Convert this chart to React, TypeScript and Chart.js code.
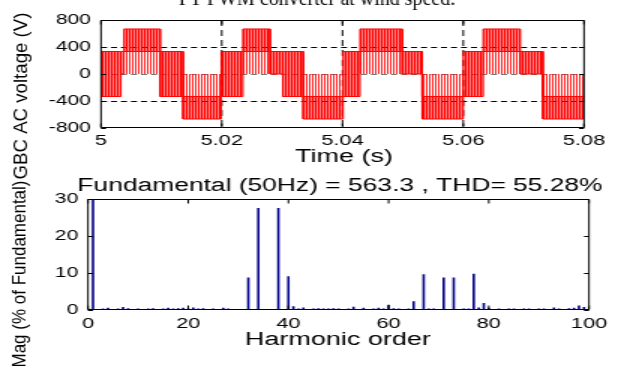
import React, { useEffect, useRef } from 'react';
import { Chart, registerables } from 'chart.js';

Chart.register(...registerables);

// ---------------- data ----------------
const CAPTION = 'PT PWM converter at wind speed.';

const WAVE_TITLE_Y = 'GBC AC voltage (V)';
const WAVE_TITLE_X = 'Time (s)';
const WAVE_X_TICKS = [5, 5.02, 5.04, 5.06, 5.08];
const WAVE_X_LABELS = ['5', '5.02', '5.04', '5.06', '5.08'];
const WAVE_Y_TICKS = [-800, -400, 0, 400, 800];
const WAVE_Y_LABELS = ['-800', '-400', '0', '400', '800'];
const WAVE_GRID_X = [5.02, 5.04, 5.06];
const WAVE_GRID_Y = [-400, 0, 400];

// PWM switching regions: start / end time (s),
// the two levels switched between (V) and the level the narrow spikes reach.
const SEG_START = [5.0, 5.0033, 5.0038, 5.0098, 5.0136, 5.0199, 5.0235, 5.028, 5.0301, 5.0335, 5.0401, 5.0429, 5.0499, 5.0532, 5.06, 5.0633, 5.0694, 5.0732];
const SEG_END = [5.0033, 5.0038, 5.0098, 5.0136, 5.0199, 5.0235, 5.028, 5.0301, 5.0335, 5.0401, 5.0429, 5.0499, 5.0532, 5.06, 5.0633, 5.0694, 5.0732, 5.08];
const SEG_LOW = [-333, 0, 333, -333, -667, -333, 333, 0, -333, -667, -333, 333, 0, -667, -333, 333, 0, -667];
const SEG_HIGH = [333, 333, 667, 333, -333, 333, 667, 333, 333, -333, 333, 667, 333, -333, 333, 667, 333, -333];
const SEG_SPIKE: (number | null)[] = [null, null, 0, null, 0, null, 0, null, null, 0, null, 0, null, 0, null, 0, null, 0];

const FFT_TITLE = 'Fundamental (50Hz) = 563.3 , THD= 55.28%';
const FFT_TITLE_X = 'Harmonic order';
const FFT_TITLE_Y = 'Mag (% of Fundamental)';
const FFT_X_TICKS = [0, 20, 40, 60, 80, 100];
const FFT_X_LABELS = ['0', '20', '40', '60', '80', '100'];
const FFT_Y_TICKS = [0, 10, 20, 30];
const FFT_Y_LABELS = ['0', '10', '20', '30'];
// magnitude of harmonic orders 0..100 (% of fundamental)
const HARMONIC_MAG = [
  0.3, 100, 0.2, 0.3, 0.5, 0.2, 0.3, 0.7, 0.4, 0.2,
  0.3, 0.2, 0.3, 0.4, 0.2, 0.3, 0.5, 0.3, 0.4, 0.5,
  0.3, 0.6, 0.3, 0.4, 0.2, 0.3, 0.2, 0.5, 0.3, 0.2,
  0.2, 0.2, 8.7, 0.2, 27.5, 0.2, 0.2, 0.2, 27.5, 0.2,
  9.0, 0.9, 0.3, 0.6, 0.2, 0.3, 0.4, 0.3, 0.3, 0.4,
  0.3, 0.2, 0.3, 0.8, 0.2, 0.5, 0.2, 0.3, 0.5, 0.3,
  1.3, 0.4, 0.3, 0.2, 0.3, 2.3, 0.2, 9.6, 0.3, 0.3,
  0.2, 8.7, 0.2, 8.7, 0.2, 0.3, 0.3, 9.7, 0.6, 1.8,
  0.5, 0.2, 0.3, 0.2, 0.3, 0.3, 0.2, 0.3, 0.3, 0.2,
  0.3, 0.3, 0.2, 0.6, 0.3, 0.2, 0.4, 0.5, 1.1, 0.7,
  0.3,
];

// ---------------- layout ----------------
const STRETCH = 1.5; // the figure is stretched horizontally
const PAGE_W = 630;
const PAGE_H = 372;
const CANVAS_W = PAGE_W / STRETCH;
const WAVE_AREA = { left: 101, right: 584, top: 20, bottom: 128 };
const FFT_AREA = { left: 88, right: 589, top: 199, bottom: 310 };
const X_AXIS_H = 30;
const FONT = '"Liberation Sans", Arial, sans-serif';
const SERIF = '"Liberation Serif", "Times New Roman", serif';

function labelFrom(ticks: number[], labels: string[]) {
  return (value: number | string) => {
    const v = Number(value);
    const i = ticks.findIndex((t) => Math.abs(t - v) < 1e-9);
    return i >= 0 ? labels[i] : '';
  };
}

function drawLabel(
  ctx: CanvasRenderingContext2D,
  text: string,
  x: number,
  y: number,
  size: number,
  opts: { rotate?: boolean; length?: number; serif?: boolean; plain?: boolean } = {}
) {
  ctx.save();
  ctx.fillStyle = '#000';
  ctx.font = `${size}px ${opts.serif ? SERIF : FONT}`;
  ctx.textAlign = 'center';
  ctx.textBaseline = opts.serif ? 'alphabetic' : 'middle';
  ctx.translate(x / STRETCH, y);
  if (opts.plain) ctx.scale(1 / STRETCH, 1);
  if (opts.rotate) {
    ctx.rotate(-Math.PI / 2);
    if (opts.length) {
      const w = ctx.measureText(text).width;
      ctx.scale(opts.length / w, 1);
    }
  }
  ctx.fillText(text, 0, 0);
  ctx.restore();
}

function framePlugin(cfg: {
  gridX: number[];
  gridY: number[];
  ticksX: number[];
  ticksY: number[];
  texts: (ctx: CanvasRenderingContext2D) => void;
}) {
  return {
    id: 'matlabFrame',
    beforeDatasetsDraw(chart: any) {
      const { ctx, chartArea: a, scales } = chart;
      ctx.save();
      ctx.lineWidth = 1;
      ctx.setLineDash([6 / STRETCH, 4 / STRETCH]);
      cfg.gridY.forEach((v) => {
        const py = Math.round(scales.y.getPixelForValue(v)) + 0.5;
        ctx.strokeStyle = v === 0 ? '#777' : '#000';
        ctx.beginPath();
        ctx.moveTo(a.left, py);
        ctx.lineTo(a.right, py);
        ctx.stroke();
      });
      ctx.setLineDash([6, 4]);
      ctx.strokeStyle = '#000';
      cfg.gridX.forEach((v) => {
        const px = scales.x.getPixelForValue(v);
        ctx.beginPath();
        ctx.moveTo(px, a.top);
        ctx.lineTo(px, a.bottom);
        ctx.stroke();
      });
      ctx.restore();
    },
    afterDatasetsDraw(chart: any) {
      const { ctx, chartArea: a, scales } = chart;
      const top = Math.round(a.top) + 0.5;
      const bottom = Math.round(a.bottom) - 0.5;
      ctx.save();
      ctx.strokeStyle = '#000';
      ctx.lineWidth = 1;
      ctx.setLineDash([]);
      ctx.beginPath();
      ctx.moveTo(a.left, top);
      ctx.lineTo(a.right, top);
      ctx.moveTo(a.left, bottom);
      ctx.lineTo(a.right, bottom);
      ctx.moveTo(a.left, top);
      ctx.lineTo(a.left, bottom);
      ctx.moveTo(a.right, top);
      ctx.lineTo(a.right, bottom);
      cfg.ticksX.forEach((v) => {
        const px = scales.x.getPixelForValue(v);
        ctx.moveTo(px, bottom);
        ctx.lineTo(px, bottom - 4);
        ctx.moveTo(px, top);
        ctx.lineTo(px, top + 4);
      });
      const tl = 5 / STRETCH;
      cfg.ticksY.forEach((v) => {
        const py = Math.round(scales.y.getPixelForValue(v)) + 0.5;
        ctx.moveTo(a.left, py);
        ctx.lineTo(a.left + tl, py);
        ctx.moveTo(a.right, py);
        ctx.lineTo(a.right - tl, py);
      });
      ctx.stroke();
      ctx.restore();
    },
    afterDraw(chart: any) {
      cfg.texts(chart.ctx);
    },
  };
}

function stripePattern(ctx: CanvasRenderingContext2D, on: string, off: string | null) {
  const c = document.createElement('canvas');
  c.width = 2;
  c.height = 4;
  const g = c.getContext('2d')!;
  if (off) {
    g.fillStyle = off;
    g.fillRect(1, 0, 1, 4);
  }
  g.fillStyle = on;
  g.fillRect(0, 0, 1, 4);
  return ctx.createPattern(c, 'repeat')!;
}

function envelope(level: (i: number) => number) {
  const pts: { x: number; y: number }[] = [];
  for (let i = 0; i < SEG_START.length; i++) {
    pts.push({ x: SEG_START[i], y: level(i) });
    pts.push({ x: SEG_END[i], y: level(i) });
  }
  return pts;
}

function axisCommon(size: number, padding: number) {
  return {
    grid: { display: false, drawTicks: false },
    border: { display: false },
    ticks: {
      autoSkip: false,
      maxRotation: 0,
      padding,
      color: '#000',
      font: { family: FONT, size },
    },
  };
}

function waveConfig(ctx: CanvasRenderingContext2D): any {
  const band = stripePattern(ctx, 'rgba(255,0,0,1)', 'rgba(255,0,0,0.5)');
  const spike = stripePattern(ctx, 'rgba(255,0,0,0.85)', null);
  const hi = envelope((i) => SEG_HIGH[i]);
  const lo = envelope((i) => SEG_LOW[i]);
  const spikeUp = envelope((i) => {
    const s = SEG_SPIKE[i];
    return s !== null && s > SEG_HIGH[i] ? s : SEG_HIGH[i];
  });
  const spikeDown = envelope((i) => {
    const s = SEG_SPIKE[i];
    return s !== null && s < SEG_LOW[i] ? s : SEG_LOW[i];
  });
  const xA = axisCommon(14.5, 4.3);
  const yA = axisCommon(14, 6.7);
  return {
    type: 'line',
    data: {
      datasets: [
        { data: hi, borderColor: '#ff0000', borderWidth: 1, fill: false, clip: 0 },
        { data: lo, borderColor: '#ff0000', borderWidth: 1, fill: '-1', backgroundColor: band, clip: 0 },
        { data: spikeUp, borderWidth: 0, borderColor: 'rgba(0,0,0,0)', fill: '-2', backgroundColor: spike, clip: 0 },
        { data: spikeDown, borderWidth: 0, borderColor: 'rgba(0,0,0,0)', fill: '-2', backgroundColor: spike, clip: 0 },
      ],
    },
    options: {
      responsive: false,
      animation: false,
      devicePixelRatio: 1,
      events: [],
      layout: {
        padding: {
          left: 0,
          right: CANVAS_W - WAVE_AREA.right / STRETCH,
          top: WAVE_AREA.top,
          bottom: PAGE_H - WAVE_AREA.bottom - X_AXIS_H,
        },
      },
      elements: { point: { radius: 0, hitRadius: 0 }, line: { tension: 0 } },
      plugins: { legend: { display: false }, tooltip: { enabled: false }, title: { display: false } },
      scales: {
        x: {
          type: 'linear',
          min: 5,
          max: 5.08,
          ...xA,
          ticks: { ...xA.ticks, callback: labelFrom(WAVE_X_TICKS, WAVE_X_LABELS) },
          afterBuildTicks: (s: any) => {
            s.ticks = WAVE_X_TICKS.map((v) => ({ value: v }));
          },
          afterFit: (s: any) => {
            s.height = X_AXIS_H;
          },
        },
        y: {
          type: 'linear',
          min: -800,
          max: 800,
          ...yA,
          ticks: { ...yA.ticks, callback: labelFrom(WAVE_Y_TICKS, WAVE_Y_LABELS) },
          afterBuildTicks: (s: any) => {
            s.ticks = WAVE_Y_TICKS.map((v) => ({ value: v }));
          },
          afterFit: (s: any) => {
            s.width = WAVE_AREA.left / STRETCH;
          },
        },
      },
    },
    plugins: [
      framePlugin({
        gridX: WAVE_GRID_X,
        gridY: WAVE_GRID_Y,
        ticksX: WAVE_X_TICKS,
        ticksY: WAVE_Y_TICKS,
        texts: (c) => {
          drawLabel(c, CAPTION, 317, 5, 20, { serif: true, plain: true });
          drawLabel(c, WAVE_TITLE_Y, 22, 96, 13, { rotate: true, length: 167 });
          drawLabel(c, WAVE_TITLE_X, 344, 157, 18);
        },
      }),
    ],
  };
}

function fftConfig(): any {
  const xA = axisCommon(14.5, 5.3);
  const yA = axisCommon(14, 6.5);
  return {
    type: 'bar',
    data: {
      datasets: [
        {
          data: HARMONIC_MAG.map((v, i) => ({ x: i, y: v })),
          backgroundColor: '#000088',
          borderWidth: 0,
          barThickness: 0.95,
          clip: 0,
        },
      ],
    },
    options: {
      responsive: false,
      animation: false,
      devicePixelRatio: 1,
      events: [],
      layout: {
        padding: {
          left: 0,
          right: CANVAS_W - FFT_AREA.right / STRETCH,
          top: FFT_AREA.top,
          bottom: PAGE_H - FFT_AREA.bottom - X_AXIS_H,
        },
      },
      plugins: { legend: { display: false }, tooltip: { enabled: false }, title: { display: false } },
      scales: {
        x: {
          type: 'linear',
          min: 0,
          max: 100,
          offset: false,
          ...xA,
          ticks: { ...xA.ticks, callback: labelFrom(FFT_X_TICKS, FFT_X_LABELS) },
          afterBuildTicks: (s: any) => {
            s.ticks = FFT_X_TICKS.map((v) => ({ value: v }));
          },
          afterFit: (s: any) => {
            s.height = X_AXIS_H;
          },
        },
        y: {
          type: 'linear',
          min: 0,
          max: 30,
          ...yA,
          ticks: { ...yA.ticks, callback: labelFrom(FFT_Y_TICKS, FFT_Y_LABELS) },
          afterBuildTicks: (s: any) => {
            s.ticks = FFT_Y_TICKS.map((v) => ({ value: v }));
          },
          afterFit: (s: any) => {
            s.width = FFT_AREA.left / STRETCH;
          },
        },
      },
    },
    plugins: [
      framePlugin({
        gridX: [],
        gridY: [],
        ticksX: FFT_X_TICKS,
        ticksY: FFT_Y_TICKS,
        texts: (c) => {
          drawLabel(c, FFT_TITLE, 340, 186, 17.6);
          drawLabel(c, FFT_TITLE_X, 338, 340.5, 18);
          drawLabel(c, FFT_TITLE_Y, 20.5, 274, 13, { rotate: true, length: 187 });
        },
      }),
    ],
  };
}

const canvasStyle: React.CSSProperties = {
  position: 'absolute',
  left: 0,
  top: 0,
  width: PAGE_W + 'px',
  height: PAGE_H + 'px',
};

export default function App() {
  const waveRef = useRef<HTMLCanvasElement>(null);
  const fftRef = useRef<HTMLCanvasElement>(null);

  useEffect(() => {
    const wc = waveRef.current!;
    const fc = fftRef.current!;
    wc.style.width = PAGE_W + 'px';
    wc.style.height = PAGE_H + 'px';
    fc.style.width = PAGE_W + 'px';
    fc.style.height = PAGE_H + 'px';
    const charts = [
      new Chart(fc, fftConfig()),
      new Chart(wc, waveConfig(wc.getContext('2d')!)),
    ];
    return () => charts.forEach((c) => c.destroy());
  }, []);

  return (
    <div
      style={{
        position: 'absolute',
        left: 0,
        top: 0,
        width: PAGE_W,
        height: PAGE_H,
        background: '#fff',
        overflow: 'hidden',
      }}
    >
      <canvas ref={fftRef} width={CANVAS_W} height={PAGE_H} style={canvasStyle} />
      <canvas ref={waveRef} width={CANVAS_W} height={PAGE_H} style={canvasStyle} />
    </div>
  );
}
